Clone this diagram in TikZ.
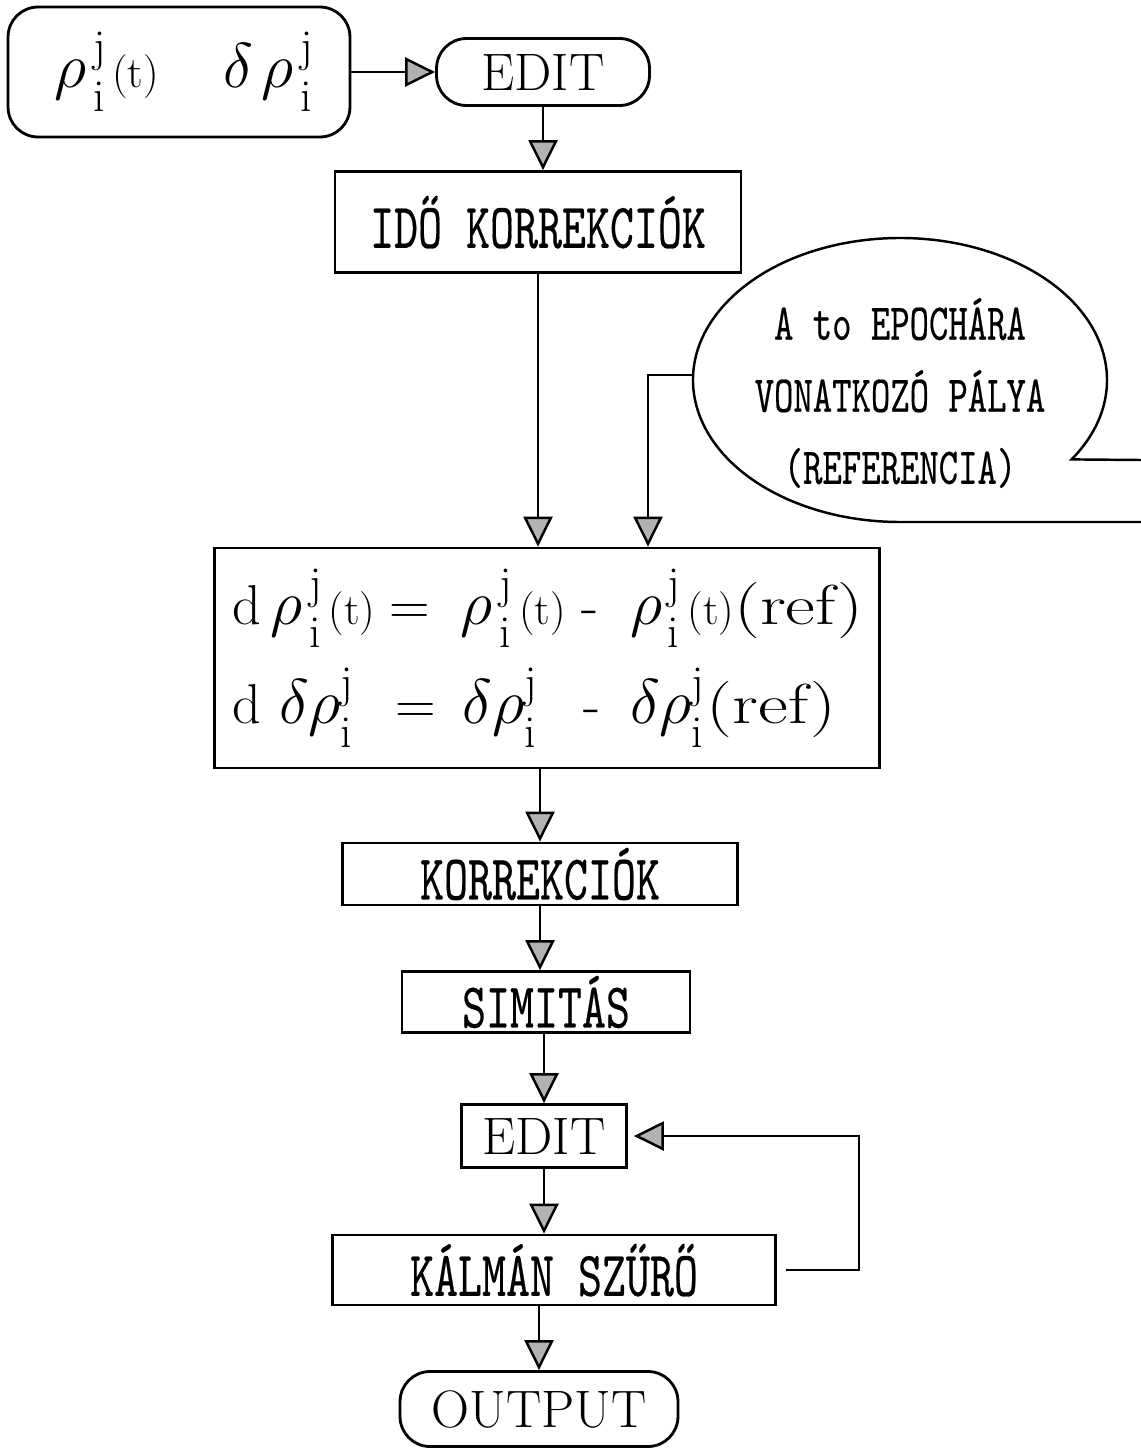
\RequirePackage{fix-cm}
\documentclass[tikz,border=0pt]{standalone}
\usepackage{fontspec}
\usepackage{graphicx}
\usetikzlibrary{positioning, arrows.meta}

\newfontfamily\dotmono{lmmono10-regular.otf}[FakeBold=0.4]
\newcommand{\tall}[1]{\scalebox{1}[1.4]{#1}}
\newcommand{\hs}[1]{\hspace{#1cm}}
\newcommand{\ssz}{\fontsize{26}{26}\selectfont}
\newcommand{\rh}{{\fontsize{36}{40}\selectfont$\rho$}}
\newcommand{\dl}{{\fontsize{36}{40}\selectfont$\delta$}}
\newcommand{\sji}{\ooalign{\raisebox{0.46em}{\ssz j}\cr\raisebox{-0.42em}{\ssz i}\cr}}
\newcommand{\tpar}{{\fontsize{25}{25}\selectfont(t)}}
\newcommand{\refp}{\scalebox{1.3}[1]{\fontsize{32}{32}\selectfont(ref)}}

\begin{document}
\begin{tikzpicture}[
    x=0.02cm,
    y=-0.02cm,
    line width=1.4pt,
    box/.style={
        rectangle,
        draw,
        line width=1.6pt,
        inner sep=0pt,
        align=center
    },
    rbox/.style={
        box,
        rounded corners=0.6cm
    },
    ttext/.style={font=\dotmono\fontsize{26}{30}\selectfont},
    ctext/.style={font=\dotmono\fontsize{21}{41}\selectfont, align=center},
    mtext/.style={font=\fontsize{32}{56.7}\selectfont},
    rtext/.style={font=\fontsize{30}{36}\selectfont},
    arrow/.style={-{Triangle[width=0.58cm, length=0.6cm, fill=gray!60]}, line width=1.4pt}
]
\useasboundingbox (0,0) rectangle (1141,1450);

% Input and first edit
\node[rbox, mtext, minimum width=6.84cm, minimum height=2.6cm] (in) at (179,72)
    {\hspace*{0.2cm}\rh\hs{0.14}\sji\hs{0.12}\tpar\hs{1.3}\dl\hs{0.16}\rh\hs{0.14}\sji};
\node[rbox, rtext, minimum width=4.26cm, minimum height=1.34cm] (edit1) at (543,72) {EDIT};

% Time corrections
\node[box, ttext, minimum width=8.12cm, minimum height=2.02cm] (ido) at (538,222) {\tall{IDŐ KORREKCIÓK}};

% Reference orbit callout
\node[ctext] (orbit) at (900,393)
    {\tall{A to EPOCHÁRA}\\\tall{VONATKOZÓ PÁLYA}\\\tall{(REFERENCIA)}};
\draw (1141,460) -- (1071.6,459.4)
    arc[start angle=34, end angle=-270, x radius=207, y radius=142] -- (1141,522);
\coordinate (bl) at (693,375);
\coordinate (tap) at (648,375);

% Differences
\node[box, minimum width=13.3cm, minimum height=4.4cm] (eq) at (547,658) {};
\node[mtext, align=left, inner sep=0pt, anchor=west] (eqtext) at ([xshift=0.36cm]eq.west)
    {d\hs{0.18}\rh\hs{0.14}\sji\hs{0.14}\tpar\hs{0.28}=\hs{0.62}\rh\hs{0.14}\sji\hs{0.14}\tpar\hs{0.32}-\hs{0.64}\rh\hs{0.1}\sji\hs{0.14}\tpar\refp\\
     d\hs{0.36}\dl\rh\sji\hs{0.84}=\hs{0.54}\dl\rh\sji\hs{0.92}-\hs{0.6}\dl\rh\sji\hs{0.04}\refp};

% Processing chain
\node[box, ttext, minimum width=7.9cm, minimum height=1.24cm] (korr) at (540,874) {\tall{KORREKCIÓK}};
\node[box, ttext, minimum width=5.76cm, minimum height=1.22cm] (simi) at (546,1002) {\tall{SIMITÁS}};
\node[box, rtext, minimum width=3.3cm, minimum height=1.26cm] (edit2) at (544,1136) {EDIT};
\node[box, ttext, minimum width=8.86cm, minimum height=1.4cm] (kalman) at (554,1270) {\tall{KÁLMÁN SZŰRŐ}};
\node[rbox, rtext, minimum width=5.56cm, minimum height=1.5cm] (out) at (539,1409) {OUTPUT};

% Arrows
\draw[arrow] (in.east) -- (edit1.west);
\draw[arrow] (edit1.south) -- (edit1.south |- ido.north);
\draw[arrow] (ido.south) -- (ido.south |- eq.north);
\draw[arrow] (bl) -| (eq.north -| tap);
\draw[arrow] (korr.north |- eq.south) -- (korr.north);
\draw[arrow] (korr.south) -- (korr.south |- simi.north);
\draw[arrow] (edit2.north |- simi.south) -- (edit2.north);
\draw[arrow] (edit2.south) -- (edit2.south |- kalman.north);
\draw[arrow] (out.north |- kalman.south) -- (out.north);

% Feedback loop
\draw[arrow, shorten <=0.18cm, shorten >=0.12cm] (kalman.east) -- ++(82,0) |- (edit2.east);

\end{tikzpicture}
\end{document}
